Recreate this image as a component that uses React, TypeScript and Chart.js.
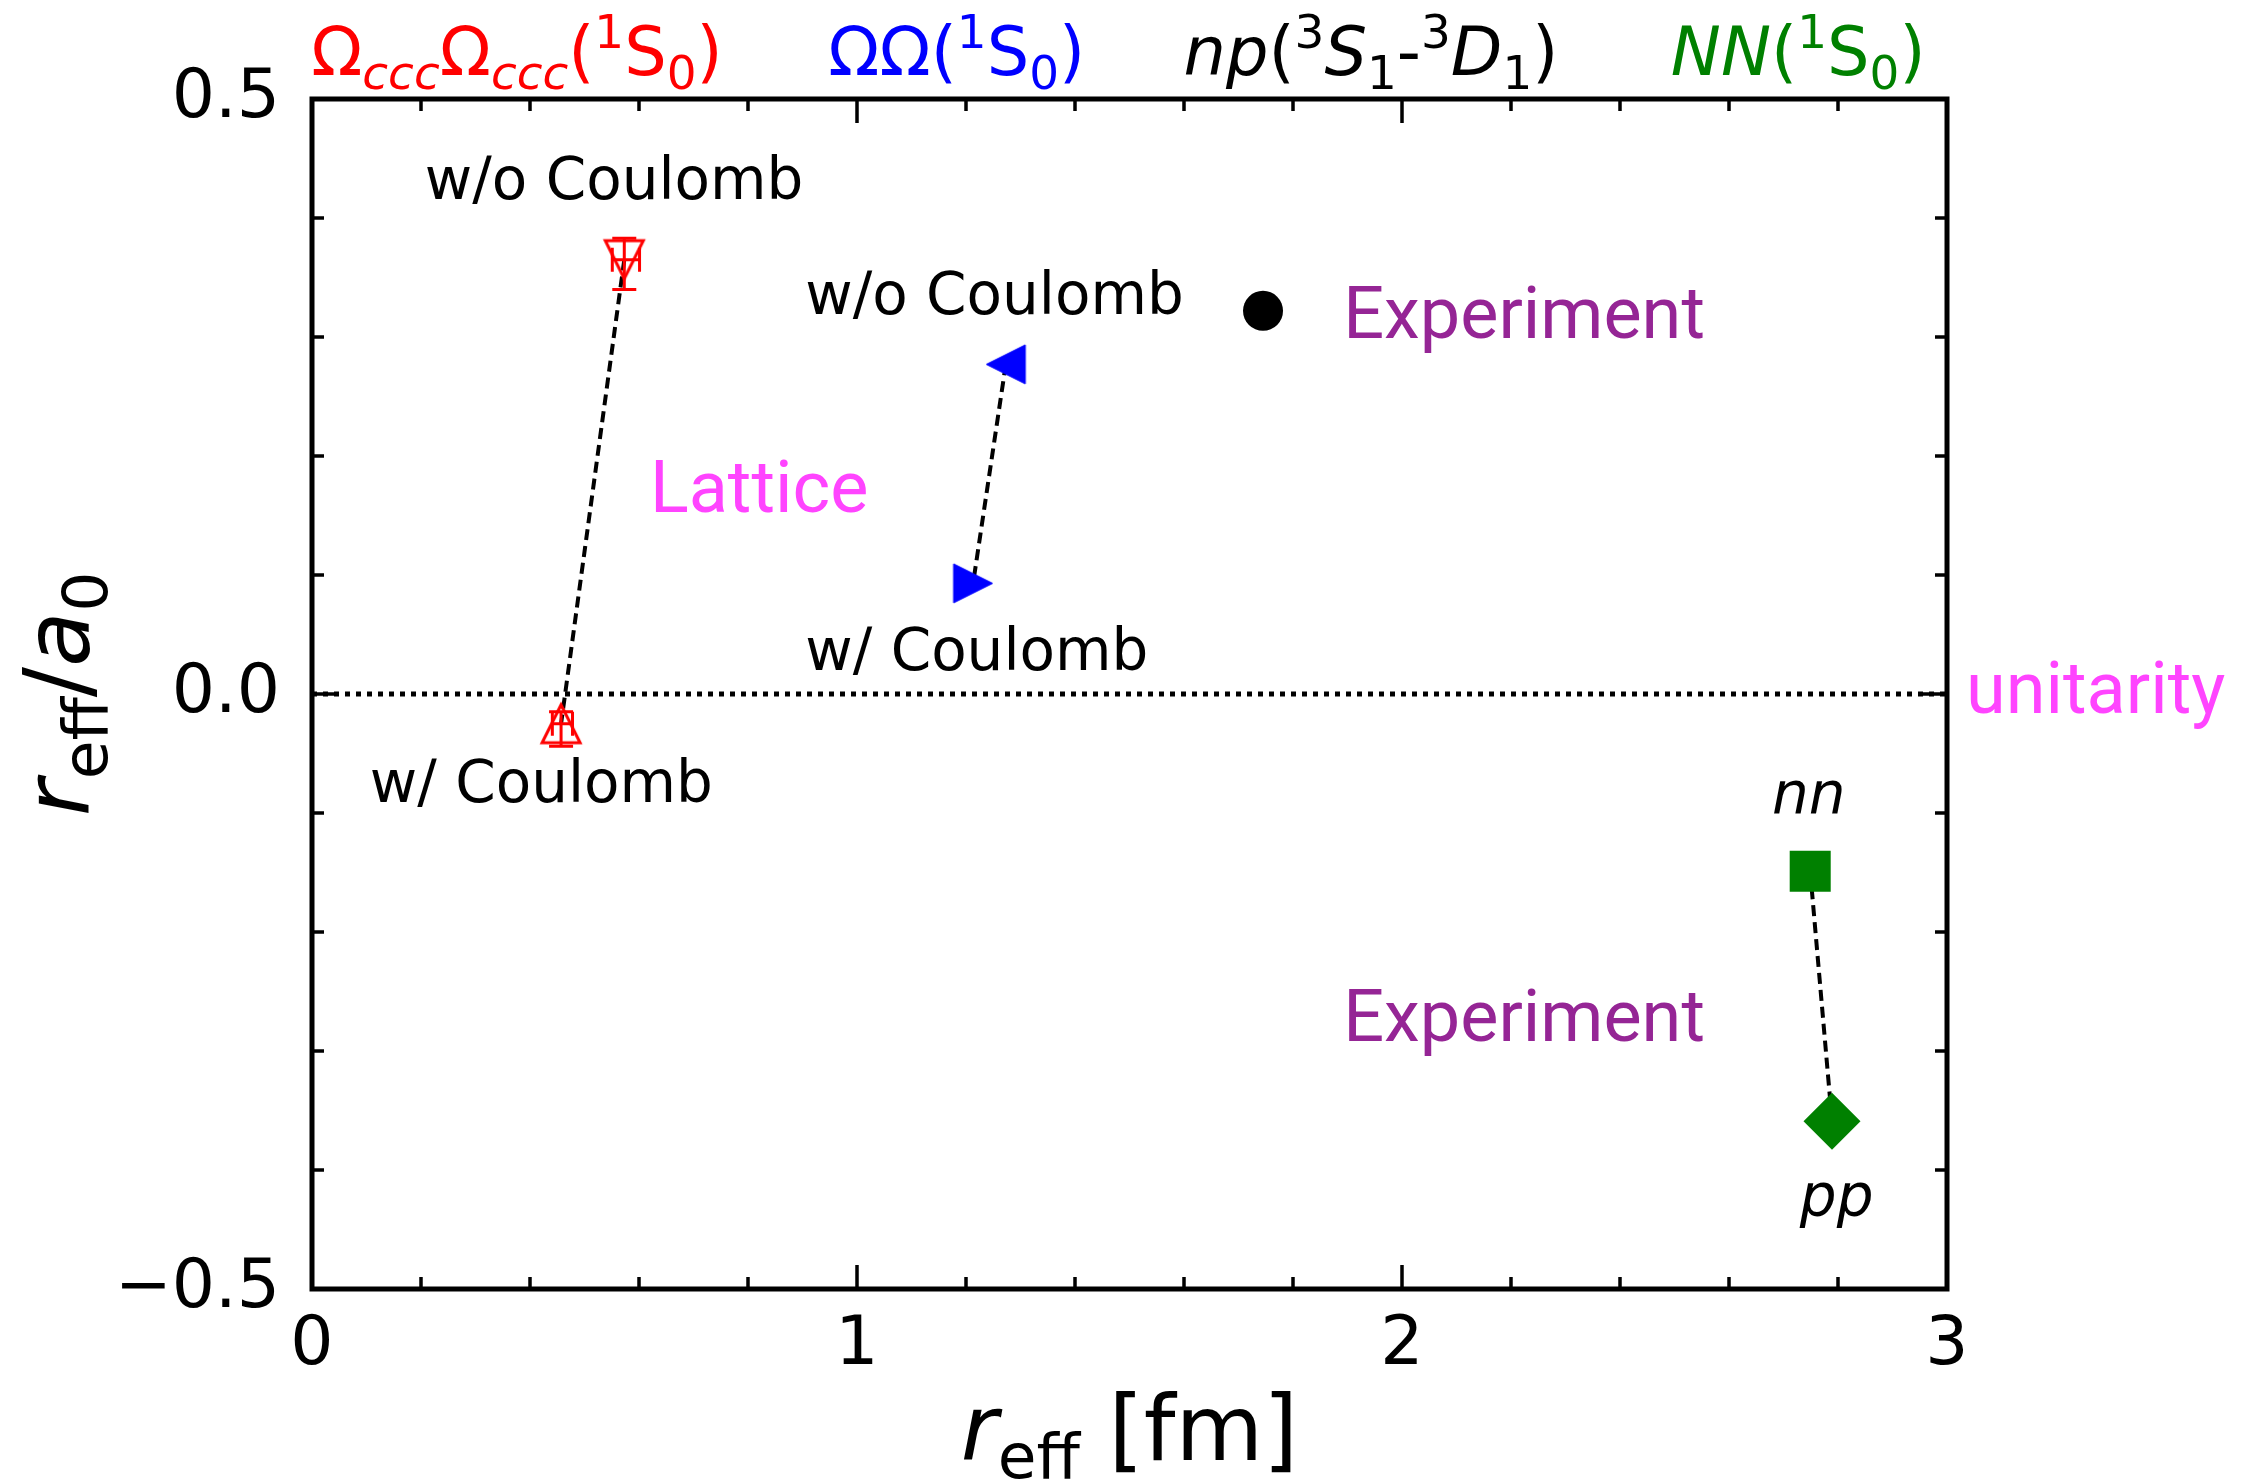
import React, { useEffect, useRef } from 'react';
import { Chart, registerables } from 'chart.js';

Chart.register(...registerables);

// ---------------- data ----------------
// Omega_ccc Omega_ccc (1S0), lattice: [w/o Coulomb, w/ Coulomb]
const omegaCccReff = [0.573, 0.457];
const omegaCccRatio = [0.365, -0.025];
const omegaCccReffErrMinus = [0.022, 0.016];
const omegaCccReffErrPlus = [0.028, 0.021];
const omegaCccRatioErrMinus = [0.025, 0.019];
const omegaCccRatioErrPlus = [0.018, 0.010];

// Omega Omega (1S0), lattice: [w/o Coulomb, w/ Coulomb]
const omegaOmegaReff = [1.273, 1.213];
const omegaOmegaRatio = [0.277, 0.093];

// np (3S1-3D1), experiment
const npReff = [1.745];
const npRatio = [0.322];

// NN (1S0), experiment: [nn, pp]
const nnPpReff = [2.749, 2.789];
const nnPpRatio = [-0.149, -0.359];

// unitarity line
const unitarityReff = [0, 3];
const unitarityRatio = [0, 0];

// axes
const xTickValues = [0, 1, 2, 3];
const xTickLabels = ['0', '1', '2', '3'];
const yTickValues = [-0.5, 0, 0.5];
const yTickLabels = ['\u22120.5', '0.0', '0.5'];

// text annotations (data coordinates, left aligned, baseline)
const annotTexts = ['w/o Coulomb', 'w/ Coulomb', 'w/o Coulomb', 'w/ Coulomb', 'Lattice', 'Experiment', 'Experiment', 'unitarity', 'nn', 'pp'];
const annotX = [0.207, 0.106, 0.905, 0.905, 0.620, 1.892, 1.892, 3.035, 2.679, 2.730];
const annotY = [0.416, -0.091, 0.319, 0.020, 0.153, 0.299, -0.292, -0.016, -0.100, -0.439];
const annotKind = ['plain', 'plain', 'plain', 'plain', 'lattice', 'exp', 'exp', 'lattice', 'ital', 'ital'];

// top system labels (centre x in data units)
const topLabelX = [0.376, 1.183, 1.943, 2.727];
const topLabelY = 0.52;

type Seg = { t: string; it?: boolean; s?: 'sub' | 'sup' };

const topLabels: { segs: Seg[]; color: string }[] = [
  {
    color: '#ff0000',
    segs: [
      { t: '\u03A9' }, { t: 'ccc', it: true, s: 'sub' }, { t: '\u03A9' }, { t: 'ccc', it: true, s: 'sub' },
      { t: '(' }, { t: '1', s: 'sup' }, { t: 'S' }, { t: '0', s: 'sub' }, { t: ')' },
    ],
  },
  {
    color: '#0000ff',
    segs: [{ t: '\u03A9\u03A9' }, { t: '(' }, { t: '1', s: 'sup' }, { t: 'S' }, { t: '0', s: 'sub' }, { t: ')' }],
  },
  {
    color: '#000000',
    segs: [
      { t: 'np', it: true }, { t: '(' }, { t: '3', s: 'sup' }, { t: 'S', it: true }, { t: '1', s: 'sub' },
      { t: '-' }, { t: '3', s: 'sup' }, { t: 'D', it: true }, { t: '1', s: 'sub' }, { t: ')' },
    ],
  },
  {
    color: '#008000',
    segs: [{ t: 'NN', it: true }, { t: '(' }, { t: '1', s: 'sup' }, { t: 'S' }, { t: '0', s: 'sub' }, { t: ')' }],
  },
];

const FONT = '"DejaVu Sans"';

function drawRich(ctx: CanvasRenderingContext2D, segs: Seg[], x: number, y: number, size: number, color: string, align: 'left' | 'center') {
  const fontFor = (s: Seg) => `${s.it ? 'italic ' : ''}${s.s ? size * 0.7 : size}px ${FONT}`;
  const widths = segs.map((s) => {
    ctx.font = fontFor(s);
    return ctx.measureText(s.t).width;
  });
  const total = widths.reduce((a, b) => a + b, 0);
  let cx = align === 'center' ? x - total / 2 : x;
  ctx.fillStyle = color;
  ctx.textAlign = 'left';
  ctx.textBaseline = 'alphabetic';
  segs.forEach((s, i) => {
    ctx.font = fontFor(s);
    const dy = s.s === 'sub' ? size * 0.2 : s.s === 'sup' ? -size * 0.4 : 0;
    ctx.fillText(s.t, cx, y + dy);
    cx += widths[i];
  });
}

function triCanvas(dir: 'up' | 'down' | 'left' | 'right', fill: string | null, stroke: string, size: number, lw: number) {
  const pad = Math.ceil(lw) + 2;
  const c = document.createElement('canvas');
  c.width = size + 2 * pad;
  c.height = size + 2 * pad;
  const g = c.getContext('2d') as CanvasRenderingContext2D;
  const h = size / 2;
  const cx = c.width / 2;
  const cy = c.height / 2;
  let pts: number[][];
  if (dir === 'up') pts = [[0, -h], [-h, h], [h, h]];
  else if (dir === 'down') pts = [[0, h], [-h, -h], [h, -h]];
  else if (dir === 'left') pts = [[-h, 0], [h, -h], [h, h]];
  else pts = [[h, 0], [-h, -h], [-h, h]];
  g.beginPath();
  g.moveTo(cx + pts[0][0], cy + pts[0][1]);
  g.lineTo(cx + pts[1][0], cy + pts[1][1]);
  g.lineTo(cx + pts[2][0], cy + pts[2][1]);
  g.closePath();
  g.lineJoin = 'miter';
  if (fill) {
    g.fillStyle = fill;
    g.fill();
  }
  g.strokeStyle = stroke;
  g.lineWidth = lw;
  g.stroke();
  return c;
}

const framePlugin = {
  id: 'framePlugin',
  afterDatasetsDraw(chart: any) {
    const ctx: CanvasRenderingContext2D = chart.ctx;
    const xs = chart.scales.x;
    const ys = chart.scales.y;
    // error bars
    ctx.save();
    ctx.strokeStyle = '#ff0000';
    ctx.lineWidth = 3;
    const cap = 12;
    omegaCccReff.forEach((xv, i) => {
      const px = xs.getPixelForValue(xv);
      const py = ys.getPixelForValue(omegaCccRatio[i]);
      const x0 = xs.getPixelForValue(xv - omegaCccReffErrMinus[i]);
      const x1 = xs.getPixelForValue(xv + omegaCccReffErrPlus[i]);
      const y0 = ys.getPixelForValue(omegaCccRatio[i] - omegaCccRatioErrMinus[i]);
      const y1 = ys.getPixelForValue(omegaCccRatio[i] + omegaCccRatioErrPlus[i]);
      ctx.beginPath();
      ctx.moveTo(x0, py); ctx.lineTo(x1, py);
      ctx.moveTo(x0, py - cap); ctx.lineTo(x0, py + cap);
      ctx.moveTo(x1, py - cap); ctx.lineTo(x1, py + cap);
      ctx.moveTo(px, y0); ctx.lineTo(px, y1);
      ctx.moveTo(px - cap, y0); ctx.lineTo(px + cap, y0);
      ctx.moveTo(px - cap, y1); ctx.lineTo(px + cap, y1);
      ctx.stroke();
    });
    ctx.restore();
  },
  afterDraw(chart: any) {
    const ctx: CanvasRenderingContext2D = chart.ctx;
    const a = chart.chartArea;
    const xs = chart.scales.x;
    const ys = chart.scales.y;
    ctx.save();
    // ticks (inward, all sides)
    ctx.strokeStyle = '#000';
    ctx.lineWidth = 3.5;
    ctx.beginPath();
    const maj = 24;
    const min = 12;
    for (let k = 0; k <= 15; k++) {
      const v = k * 0.2;
      const px = xs.getPixelForValue(v);
      const L = k % 5 === 0 ? maj : min;
      ctx.moveTo(px, a.bottom); ctx.lineTo(px, a.bottom - L);
      ctx.moveTo(px, a.top); ctx.lineTo(px, a.top + L);
    }
    for (let k = 0; k <= 10; k++) {
      const v = -0.5 + k * 0.1;
      const py = ys.getPixelForValue(v);
      const L = k % 5 === 0 ? maj : min;
      ctx.moveTo(a.left, py); ctx.lineTo(a.left + L, py);
      ctx.moveTo(a.right, py); ctx.lineTo(a.right - L, py);
    }
    ctx.stroke();
    // frame
    ctx.lineWidth = 5;
    ctx.strokeRect(a.left, a.top, a.right - a.left, a.bottom - a.top);

    // top labels
    topLabels.forEach((lab, i) => {
      drawRich(ctx, lab.segs, xs.getPixelForValue(topLabelX[i]), ys.getPixelForValue(topLabelY), 67, lab.color, 'center');
    });

    // annotations
    annotTexts.forEach((t, i) => {
      const px = xs.getPixelForValue(annotX[i]);
      const py = ys.getPixelForValue(annotY[i]);
      const kind = annotKind[i];
      ctx.textAlign = 'left';
      ctx.textBaseline = 'alphabetic';
      if (kind === 'plain') {
        ctx.font = `58px ${FONT}`;
        ctx.fillStyle = '#000';
      } else if (kind === 'ital') {
        ctx.font = `italic 58px ${FONT}`;
        ctx.fillStyle = '#000';
      } else if (kind === 'lattice') {
        ctx.font = '72px Roboto';
        ctx.fillStyle = '#ff44ff';
      } else {
        ctx.font = '72px Roboto';
        ctx.fillStyle = '#952595';
      }
      ctx.fillText(t, px, py);
    });

    // axis labels
    const xl: Seg[] = [{ t: 'r', it: true }, { t: 'eff', s: 'sub' }, { t: ' [fm]' }];
    drawRich(ctx, xl, (a.left + a.right) / 2, 1460, 90, '#000', 'center');
    const yl: Seg[] = [{ t: 'r', it: true }, { t: 'eff', s: 'sub' }, { t: '/' }, { t: 'a', it: true }, { t: '0', s: 'sub' }];
    ctx.save();
    ctx.translate(89, (a.top + a.bottom) / 2);
    ctx.rotate(-Math.PI / 2);
    drawRich(ctx, yl, 0, 0, 90, '#000', 'center');
    ctx.restore();

    ctx.restore();
  },
};

export default function App() {
  const ref = useRef<HTMLCanvasElement | null>(null);

  useEffect(() => {
    if (!ref.current) return;
    const triDownOpen = triCanvas('down', null, '#ff0000', 38, 3);
    const triUpOpen = triCanvas('up', null, '#ff0000', 38, 3);
    const triLeft = triCanvas('left', '#0000ff', '#0000ff', 39, 1);
    const triRight = triCanvas('right', '#0000ff', '#0000ff', 39, 1);

    const pts = (xsArr: number[], ysArr: number[]) => xsArr.map((x, i) => ({ x, y: ysArr[i] }));
    const dashed = { showLine: true, borderColor: '#000', borderWidth: 4, borderDash: [11, 6], pointRadius: 0, fill: false, order: 2 };

    const chart = new Chart(ref.current, {
      type: 'scatter',
      data: {
        datasets: [
          { label: 'OmegaCcc w/o', data: pts([omegaCccReff[0]], [omegaCccRatio[0]]), pointStyle: triDownOpen as any, order: 0 },
          { label: 'OmegaCcc w/', data: pts([omegaCccReff[1]], [omegaCccRatio[1]]), pointStyle: triUpOpen as any, order: 0 },
          { label: 'OmegaOmega w/o', data: pts([omegaOmegaReff[0]], [omegaOmegaRatio[0]]), pointStyle: triLeft as any, order: 0 },
          { label: 'OmegaOmega w/', data: pts([omegaOmegaReff[1]], [omegaOmegaRatio[1]]), pointStyle: triRight as any, order: 0 },
          { label: 'np', data: pts(npReff, npRatio), pointStyle: 'circle', pointRadius: 20, backgroundColor: '#000', borderColor: '#000', borderWidth: 0, order: 0 },
          { label: 'nn', data: pts([nnPpReff[0]], [nnPpRatio[0]]), pointStyle: 'rect', pointRadius: 29, backgroundColor: '#008000', borderColor: '#008000', borderWidth: 0, order: 0 },
          { label: 'pp', data: pts([nnPpReff[1]], [nnPpRatio[1]]), pointStyle: 'rectRot', pointRadius: 28.5, backgroundColor: '#008000', borderColor: '#008000', borderWidth: 0, order: 0 },
          { label: 'OmegaCcc link', data: pts(omegaCccReff, omegaCccRatio), ...dashed },
          { label: 'OmegaOmega link', data: pts(omegaOmegaReff, omegaOmegaRatio), ...dashed },
          { label: 'NN link', data: pts(nnPpReff, nnPpRatio), ...dashed },
          { label: 'unitarity', data: pts(unitarityReff, unitarityRatio), showLine: true, borderColor: '#000', borderWidth: 5, borderDash: [5, 6], pointRadius: 0, fill: false, order: 3 },
        ] as any,
      },
      options: {
        animation: false,
        responsive: true,
        maintainAspectRatio: false,
        devicePixelRatio: 1,
        events: [],
        layout: { padding: { top: 99, right: 299, left: 0, bottom: 0 } },
        plugins: { legend: { display: false }, tooltip: { enabled: false } },
        scales: {
          x: {
            type: 'linear',
            min: 0,
            max: 3,
            afterFit: (s: any) => { s.height = 191; },
            afterBuildTicks: (s: any) => { s.ticks = xTickValues.map((v) => ({ value: v })); },
            ticks: {
              callback: (v: any) => { const i = xTickValues.indexOf(Number(v)); return i >= 0 ? xTickLabels[i] : ''; },
              font: { family: 'DejaVu Sans', size: 68 },
              color: '#000',
              padding: 17,
              maxRotation: 0,
            },
            grid: { display: false, drawTicks: false },
            border: { display: false },
          },
          y: {
            type: 'linear',
            min: -0.5,
            max: 0.5,
            afterFit: (s: any) => { s.width = 312; },
            afterBuildTicks: (s: any) => { s.ticks = yTickValues.map((v) => ({ value: v })); },
            ticks: {
              callback: (v: any) => { const i = yTickValues.findIndex((t) => Math.abs(t - Number(v)) < 1e-9); return i >= 0 ? yTickLabels[i] : ''; },
              font: { family: 'DejaVu Sans', size: 68 },
              color: '#000',
              padding: 32,
            },
            grid: { display: false, drawTicks: false },
            border: { display: false },
          },
        },
      } as any,
      plugins: [framePlugin],
    });
    return () => chart.destroy();
  }, []);

  return (
    <div style={{ position: 'absolute', left: 0, top: 0, width: 2246, height: 1480, background: '#fff' }}>
      <canvas ref={ref} />
    </div>
  );
}
